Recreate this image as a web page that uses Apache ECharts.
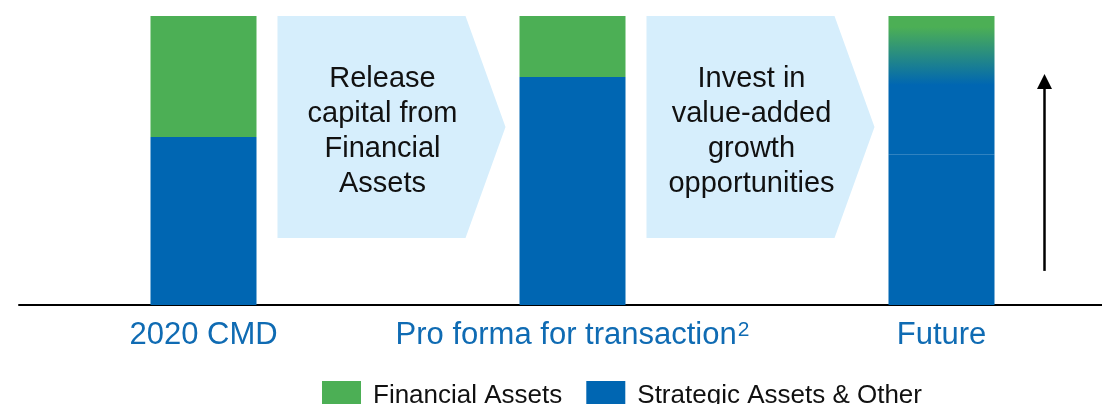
<!DOCTYPE html>
<html>
<head>
<meta charset="utf-8">
<script src="https://cdn.jsdelivr.net/npm/echarts@6/dist/echarts.min.js"></script>
<style>
  html, body { margin: 0; padding: 0; background: #fff; }
  #chart { width: 1102px; height: 404px; }
</style>
</head>
<body>
<div id="chart"></div>
<script>
const categories = ['2020 CMD', 'Pro forma for transaction', 'Future']
const strategicAssets = [58.1, 78.9, 52.2]
const financialAssets = [41.9, 21.1, 47.8]
const stepTexts = [
  'Release\ncapital from\nFinancial\nAssets',
  'Invest in\nvalue-added\ngrowth\nopportunities'
]
const stepRange = [23.2, 100]   // chevron bottom / top in axis units
const arrowRange = [11.8, 79.9] // growth arrow tail / tip

const GREEN = '#4CAF55'
const BLUE = '#0066B2'
const FONT = 'Liberation Sans, Arial, sans-serif'

const chart = echarts.init(document.getElementById('chart'))

const futureFill = new echarts.graphic.LinearGradient(0, 0, 0, 1, [
  { offset: 0, color: GREEN },
  { offset: 0.08, color: GREEN },
  { offset: 0.5, color: BLUE },
  { offset: 1, color: BLUE },
])

function renderStep(params, api) {
  const i = api.value(0)
  const c0 = api.coord([i, 0])[0]
  const c1 = api.coord([i + 1, 0])[0]
  const yTop = api.coord([i, stepRange[1]])[1]
  const yBot = api.coord([i, stepRange[0]])[1]
  const left = c0 + 74
  const corner = c1 - 107
  const tip = c1 - 67
  const mid = (yTop + yBot) / 2
  return {
    type: 'group',
    children: [
      {
        type: 'polygon',
        shape: { points: [[left, yTop], [corner, yTop], [tip, mid], [corner, yBot], [left, yBot]] },
        style: { fill: '#D6EEFC' },
      },
      {
        type: 'text',
        style: {
          text: stepTexts[params.dataIndex],
          x: left + 105,
          y: mid + 5,
          align: 'center',
          verticalAlign: 'middle',
          fontSize: 29,
          fontFamily: FONT,
          lineHeight: 35,
          fill: '#111',
        },
      },
    ],
  }
}

function renderArrow(params, api) {
  const i = api.value(0)
  const x = api.coord([i, 0])[0] + 103
  const yTail = api.coord([i, arrowRange[0]])[1]
  const yTip = api.coord([i, arrowRange[1]])[1]
  return {
    type: 'group',
    children: [
      {
        type: 'line',
        shape: { x1: x, y1: yTail, x2: x, y2: yTip + 12 },
        style: { stroke: '#000', lineWidth: 2.5 },
      },
      {
        type: 'polygon',
        shape: { points: [[x - 7.5, yTip + 15], [x + 7.5, yTip + 15], [x, yTip]] },
        style: { fill: '#000' },
      },
    ],
  }
}

chart.setOption({
  animation: false,
  textStyle: { fontFamily: FONT },
  grid: { left: 19, right: -24, top: 16, bottom: 99, outerBoundsMode: 'none', containLabel: false },
  legend: {
    data: ['Financial Assets', 'Strategic Assets & Other'],
    left: 322,
    top: 381,
    padding: 0,
    icon: 'rect',
    itemWidth: 39,
    itemHeight: 30,
    itemGap: 24,
    textStyle: { fontSize: 26, color: '#111', fontFamily: FONT, padding: [0, 0, 0, 7] },
  },
  xAxis: {
    type: 'category',
    data: categories,
    axisLine: { lineStyle: { color: '#000', width: 2 } },
    axisTick: { show: false },
    axisLabel: {
      interval: 0,
      hideOverlap: false,
      margin: 15,
      fontSize: 31,
      color: '#0F6BB3',
      fontFamily: FONT,
      formatter: (v) => v === 'Pro forma for transaction' ? '{a|' + v + '}{sup|2}' : v,
      rich: {
        a: { fontSize: 31, color: '#0F6BB3', fontFamily: FONT },
        sup: { fontSize: 21, color: '#0F6BB3', fontFamily: FONT, verticalAlign: 'top', padding: [0, 0, 0, 1] },
      },
    },
  },
  yAxis: {
    type: 'value',
    min: 0,
    max: 100,
    show: false,
  },
  series: [
    {
      name: 'Strategic Assets & Other',
      type: 'bar',
      stack: 'total',
      barWidth: 106,
      itemStyle: { color: BLUE },
      data: strategicAssets,
    },
    {
      name: 'Financial Assets',
      type: 'bar',
      stack: 'total',
      barWidth: 106,
      itemStyle: { color: GREEN },
      data: financialAssets.map((v, i) =>
        i === 2 ? { value: v, itemStyle: { color: futureFill } } : v),
    },
    {
      name: 'steps',
      type: 'custom',
      renderItem: renderStep,
      data: stepTexts.map((t, i) => [i, 0]),
      silent: true,
    },
    {
      name: 'arrow',
      type: 'custom',
      renderItem: renderArrow,
      data: [[2, 0]],
      silent: true,
    },
  ],
})
</script>
</body>
</html>
